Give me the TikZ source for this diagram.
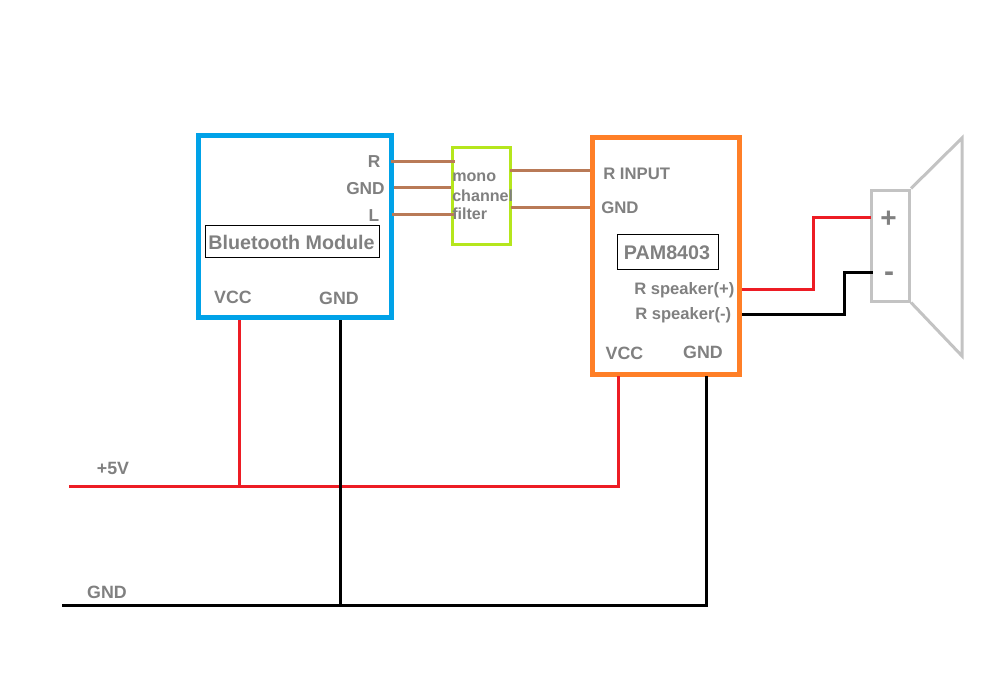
\documentclass[tikz,border=0pt]{standalone}
\usepackage{fontspec}
\setmainfont{Liberation Sans}
\definecolor{txt}{HTML}{808080}
\definecolor{bluebox}{HTML}{00A2E8}
\definecolor{greenbox}{HTML}{B5E61D}
\definecolor{orangebox}{HTML}{FF7F27}
\definecolor{brownwire}{HTML}{B97A57}
\definecolor{redwire}{HTML}{ED1C24}
\definecolor{spk}{HTML}{C3C3C3}
\newcommand{\sizepx}[1]{\pgfmathsetlengthmacro{\fsz}{#1*0.75pt}\fontsize{\fsz}{\fsz}\selectfont\bfseries}
\tikzset{
  x=0.75pt,y=-0.75pt,
  lab/.style={text=txt,inner sep=0pt,font=\sizepx{#1}},
  titlebox/.style={draw=black,line width=0.75pt,inner sep=0pt,text=txt,font=\sizepx{#1}},
  modbox/.style={draw=#1,line width=3.75pt,inner sep=0pt,fill=none},
  wire/.style={draw=#1,line width=2.25pt,line join=miter},
}
\begin{document}
\begin{tikzpicture}
\useasboundingbox (0,0) rectangle (997,692);
% modules
\node[modbox=bluebox,minimum width=193*0.75pt,minimum height=182*0.75pt] (bt) at (295,226.5) {};
\node[modbox=orangebox,minimum width=147*0.75pt,minimum height=236.5*0.75pt] (pam) at (666,256) {};
\node[draw=greenbox,line width=2.25pt,inner sep=0pt,minimum width=57.5*0.75pt,minimum height=96.5*0.75pt] (filt) at (481.6,196) {};
% speaker
\node[draw=spk,line width=2.25pt,inner sep=0pt,minimum width=38*0.75pt,minimum height=111*0.75pt] (spkbox) at (890.5,245.5) {};
\draw[spk,line width=2.25pt,line join=miter] (spkbox.north east) -- (962,138) -- (962,356) -- (spkbox.south east);
% title boxes
\node[titlebox=19.9,minimum width=174*0.75pt,minimum height=32.5*0.75pt] (bttitle) at (292,241.5) {};
\node[lab=19.7] (bttext) at (291.5,242.5) {Bluetooth Module};
\node[titlebox=19.7,minimum width=101.5*0.75pt,minimum height=35.5*0.75pt] (pamtitle) at (668,252) {};
\node[lab=19.7] (pamtext) at (667,253) {PAM8403};
% labels
\node[lab=17.3] (lR) at (374,162) {R};
\node[lab=17.3] (lG) at (365.5,189) {GND};
\node[lab=17.3] (lL) at (374,215.5) {L};
\node[lab=17.8] (bV) at (233,297) {VCC};
\node[lab=17.8] (bG) at (339,298) {GND};
\node[lab=16.1,anchor=west] (m1) at (452,177) {mono};
\node[lab=16.1,anchor=west] (m2) at (452,196) {channel};
\node[lab=16.1,anchor=west] (m3) at (452,214) {filter};
\node[lab=16.7,anchor=west] (pR) at (603,174) {R INPUT};
\node[lab=16.8,anchor=west] (pG) at (601,208) {GND};
\node[lab=16.6,anchor=west] (sp) at (634,290.5) {R speaker(+)};
\node[lab=16.6,anchor=west] (sm) at (635,315) {R speaker(-)};
\node[lab=17.8] (pV) at (624.5,353) {VCC};
\node[lab=17.8] (pGn) at (703,352) {GND};
\node[lab=28] (plus) at (888.5,219) {+};
\node[lab=30] (minus) at (889,277) {-};
\node[lab=17.8] (v5) at (113,468) {+5V};
\node[lab=17.8] (gl) at (107,592) {GND};
% free ends of the supply rails
\coordinate (railV) at (69,486);
\coordinate (railG) at (62,605);
\coordinate (jV) at (239.5,486);
\coordinate (jG) at (340,605);
% brown signal wires
\draw[wire=brownwire] (391,161.5) coordinate (a1) -- (455,161.5);
\draw[wire=brownwire] (394,187.5) coordinate (a2) -- (filt.west |- a2);
\draw[wire=brownwire] (392,214) coordinate (a3) -- (454,214);
\draw[wire=brownwire] (510,170.5) coordinate (b1) -- (pam.west |- b1);
\draw[wire=brownwire] (511,207) coordinate (b2) -- (pam.west |- b2);
% speaker wires
\draw[wire=redwire] (742,289) -- (813,289) -- (813,217.5) -- (871,217.5);
\draw[wire=black] (742,314.5) -- (844,314.5) -- (844,272) -- (873,272);
% power rails
\draw[wire=redwire] (railV) -- (618.5,486) -- (618.5,376);
\draw[wire=redwire] (bt.south -| jV) -- (jV);
\draw[wire=black] (railG) -- (706.5,605) -- (706.5,376);
\draw[wire=black] (bt.south -| jG) -- (jG);
\end{tikzpicture}
\end{document}
